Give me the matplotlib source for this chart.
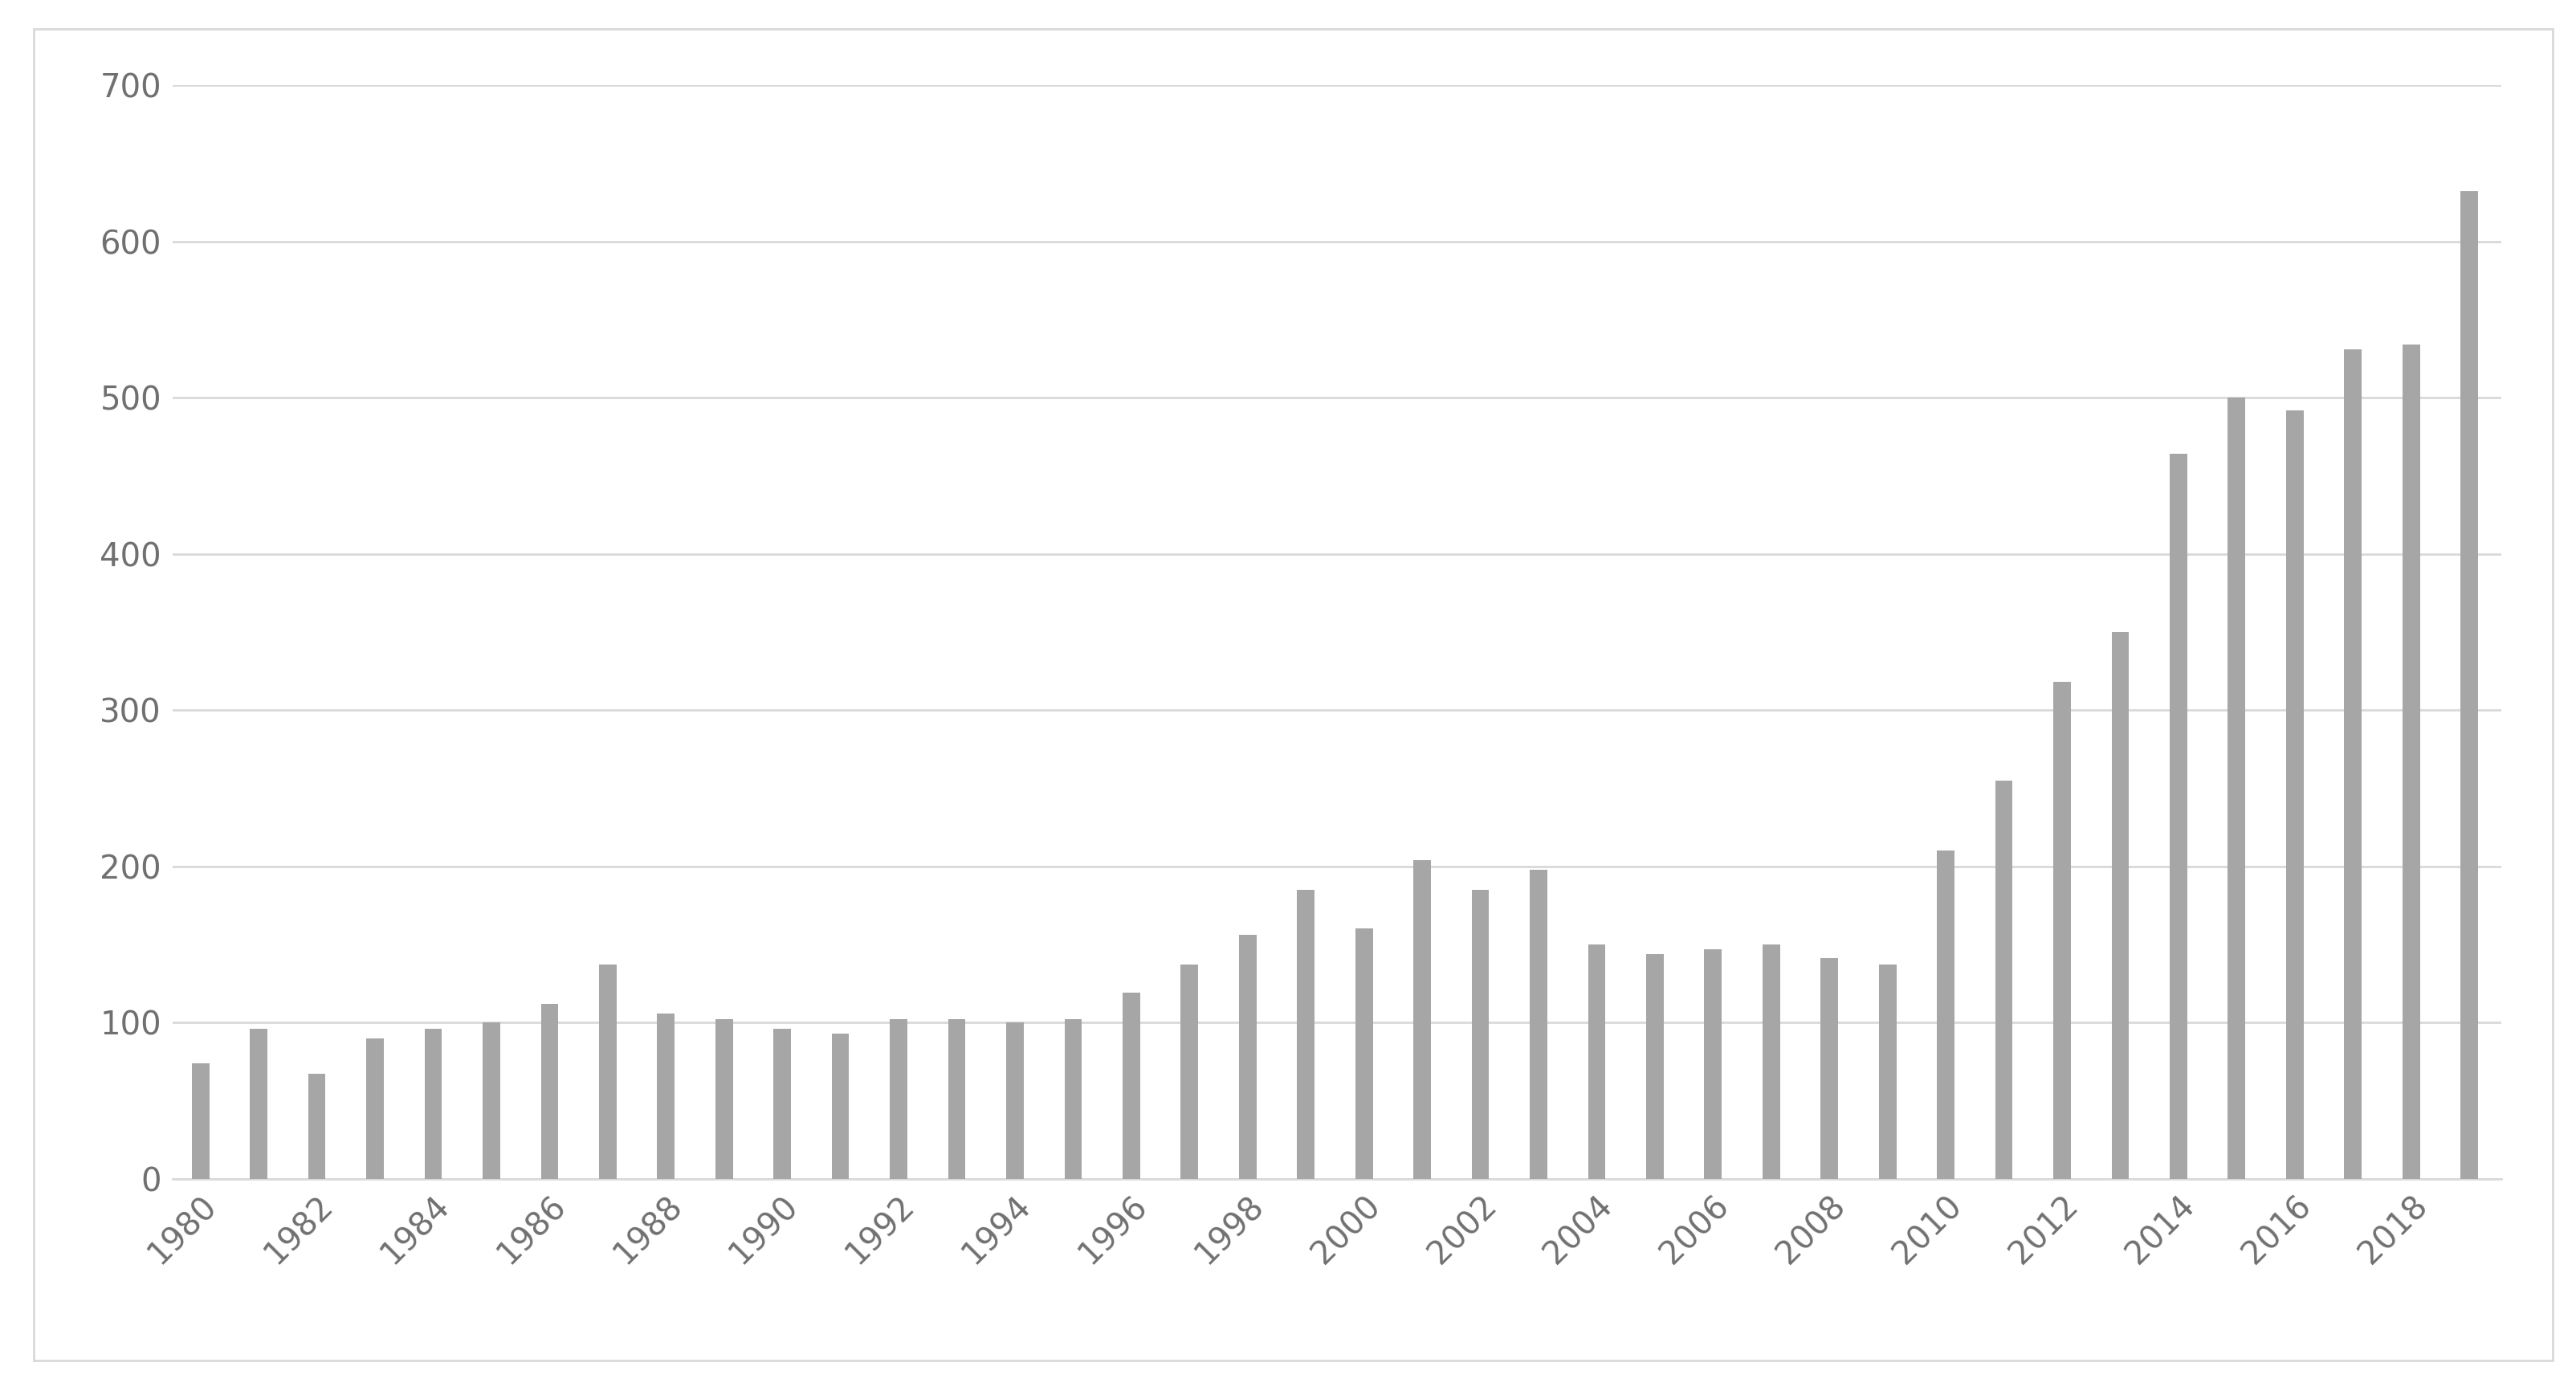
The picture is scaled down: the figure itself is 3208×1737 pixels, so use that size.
import matplotlib.pyplot as plt
from matplotlib.patches import Rectangle

years = list(range(1980, 2020))
values = [74, 96, 67, 90, 96, 100, 112, 137, 106, 102,
          96, 93, 102, 102, 100, 102, 119, 137, 156, 185,
          160, 204, 185, 198, 150, 144, 147, 150, 141, 137,
          210, 255, 318, 350, 464, 500, 492, 531, 534, 632]
yticks = [0, 100, 200, 300, 400, 500, 600, 700]

fig = plt.figure(figsize=(32.08, 17.37), dpi=100)
fig.patches.append(Rectangle((0.013, 0.025), 0.978, 0.954, transform=fig.transFigure,
                             fill=False, edgecolor='#d9d9d9', linewidth=2))
ax = fig.add_axes([0.067, 0.155, 0.904, 0.784])

x = list(range(len(years)))
ax.bar(x, values, width=0.3, color='#a6a6a6', zorder=3)
ax.set_xlim(-0.48, 39.55)
ax.set_ylim(0, 700)
ax.set_yticks(yticks)
ax.yaxis.grid(True, color='#d9d9d9', linewidth=2, zorder=0)
ax.set_xticks(x[::2])
ax.set_xticklabels([str(y) for y in years[::2]], rotation=45, ha='right',
                   rotation_mode='anchor')
ax.tick_params(axis='both', length=0, labelsize=29, labelcolor='#707070', pad=10)
for s in ['top', 'right', 'left']:
    ax.spines[s].set_visible(False)
ax.spines['bottom'].set_color('#d9d9d9')
ax.spines['bottom'].set_linewidth(2)

fig.savefig('out.png', dpi=100)
